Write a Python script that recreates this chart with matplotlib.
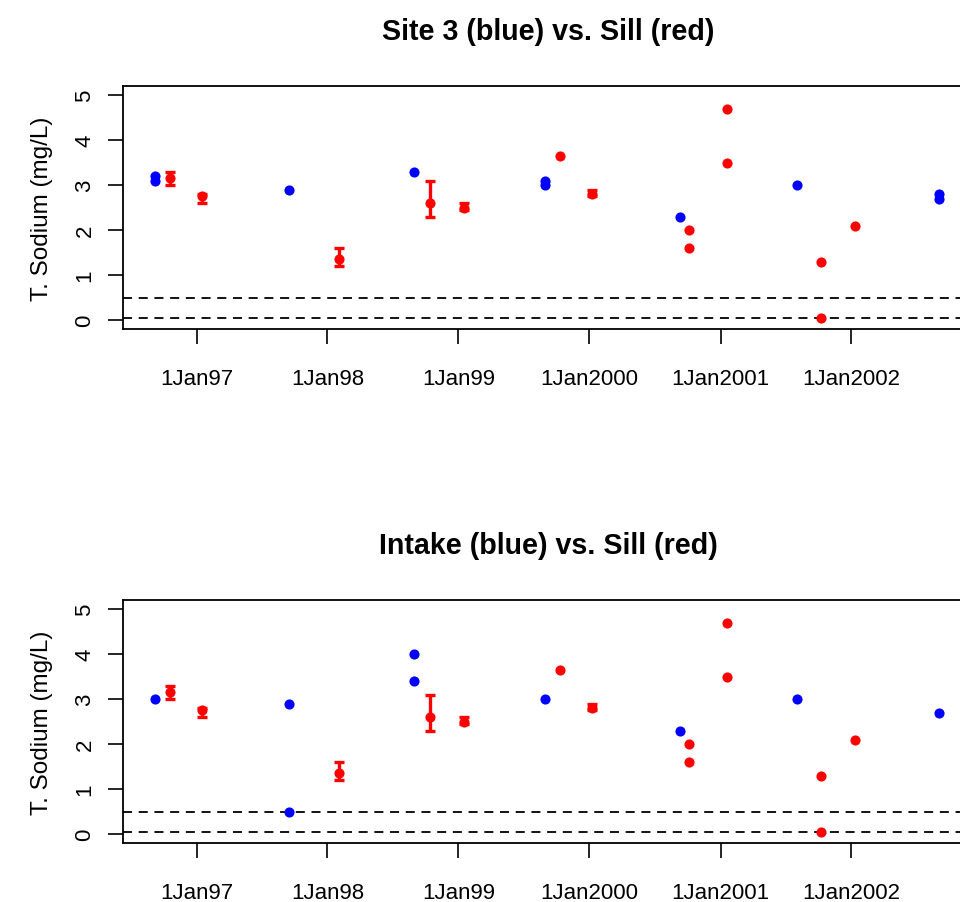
import matplotlib
matplotlib.use("Agg")
import matplotlib.pyplot as plt
import pandas as pd

plt.rcParams['font.family'] = ['Liberation Sans', 'DejaVu Sans']

# ---- data ----
site3_dates = ["1996-09-08", "1996-09-08", "1997-09-16", "1998-08-30", "1999-08-31",
               "1999-08-31", "2000-09-11", "2001-08-01", "2002-09-03", "2002-09-03"]
site3_values = [3.2, 3.1, 2.9, 3.3, 3.1, 3.0, 2.3, 3.0, 2.8, 2.7]

intake_dates = ["1996-09-08", "1997-09-16", "1997-09-16", "1998-08-30", "1998-08-30",
                "1999-08-31", "2000-09-11", "2001-08-01", "2002-09-03"]
intake_values = [3.0, 2.9, 0.5, 4.0, 3.4, 3.0, 2.3, 3.0, 2.7]

sill_dates = ["1996-10-20", "1997-01-15", "1998-02-01", "1998-10-13", "1999-01-18",
              "1999-10-12", "2000-01-09", "2000-10-05", "2000-10-05", "2001-01-18",
              "2001-01-18", "2001-10-09", "2001-10-09", "2002-01-10"]
sill_values = [3.15, 2.75, 1.35, 2.6, 2.5, 3.65, 2.8, 2.0, 1.6, 4.7, 3.5, 1.3, 0.05, 2.1]

bar_dates = ["1996-10-20", "1997-01-15", "1998-02-01", "1998-10-13", "1999-01-18", "2000-01-09"]
bar_low = [3.0, 2.6, 1.2, 2.3, 2.45, 2.75]
bar_high = [3.3, 2.8, 1.6, 3.1, 2.6, 2.9]

ref_lines = [0.5, 0.05]

tick_dates = ["1997-01-01", "1998-01-01", "1999-01-01", "2000-01-01", "2001-01-01", "2002-01-01"]
tick_labels = ["1Jan97", "1Jan98", "1Jan99", "1Jan2000", "1Jan2001", "1Jan2002"]
y_ticks = [0, 1, 2, 3, 4, 5]

titles = ["Site 3 (blue) vs. Sill (red)", "Intake (blue) vs. Sill (red)"]
ylabel = "T. Sodium (mg/L)"

# ---- figure ----
W, H = 960, 903
fig = plt.figure(figsize=(W / 100, H / 100), dpi=100)

panels = [
    (site3_dates, site3_values, 87, 330),
    (intake_dates, intake_values, 601, 844),
]

left_px, right_px = 123, 973
xmin = pd.Timestamp("1996-06-10")
xmax = pd.Timestamp("2002-12-06")

for i, (bd, bv, top_px, bot_px) in enumerate(panels):
    ax = fig.add_axes([left_px / W, 1 - bot_px / H, (right_px - left_px) / W, (bot_px - top_px) / H])
    bdt = pd.to_datetime(bd)
    sdt = pd.to_datetime(sill_dates)
    edt = pd.to_datetime(bar_dates)

    for yv in ref_lines:
        ax.axhline(yv, color='black', lw=1.3, linestyle=(0, (5, 3.7)), zorder=1)

    ax.plot(bdt, bv, 'o', color='#0000FF', markersize=7.3, markeredgewidth=0, zorder=3)
    low = list(bar_low)
    span = [h - l for h, l in zip(bar_high, bar_low)]
    ax.errorbar(edt, low, yerr=[[0] * len(low), span], fmt='none', ecolor='#FF0000',
                elinewidth=2.4, capsize=3.4, capthick=2.4, zorder=4)
    ax.plot(sdt, sill_values, 'o', color='#FF0000', markersize=7.3, markeredgewidth=0, zorder=5)

    ax.set_xlim(xmin, xmax)
    ax.set_ylim(-0.2, 5.2)
    ax.set_xticks(pd.to_datetime(tick_dates))
    ax.set_xticklabels(tick_labels)
    ax.set_yticks(y_ticks)
    ax.set_yticklabels([str(v) for v in y_ticks], rotation=90, va='center')
    ax.tick_params(axis='both', direction='out', length=10.8, width=1.2, labelsize=16,
                   colors='black')
    ax.tick_params(axis='x', pad=17)
    ax.tick_params(axis='y', pad=9)
    for sp in ax.spines.values():
        sp.set_linewidth(1.3)
        sp.set_color('black')
    ax.set_title(titles[i], fontsize=20.6, fontweight='bold', pad=34)
    ax.set_ylabel(ylabel, fontsize=17.5, va='center')
    ax.yaxis.set_label_coords(-81 / (right_px - left_px), 0.5)

fig.savefig("out.png", dpi=100)
